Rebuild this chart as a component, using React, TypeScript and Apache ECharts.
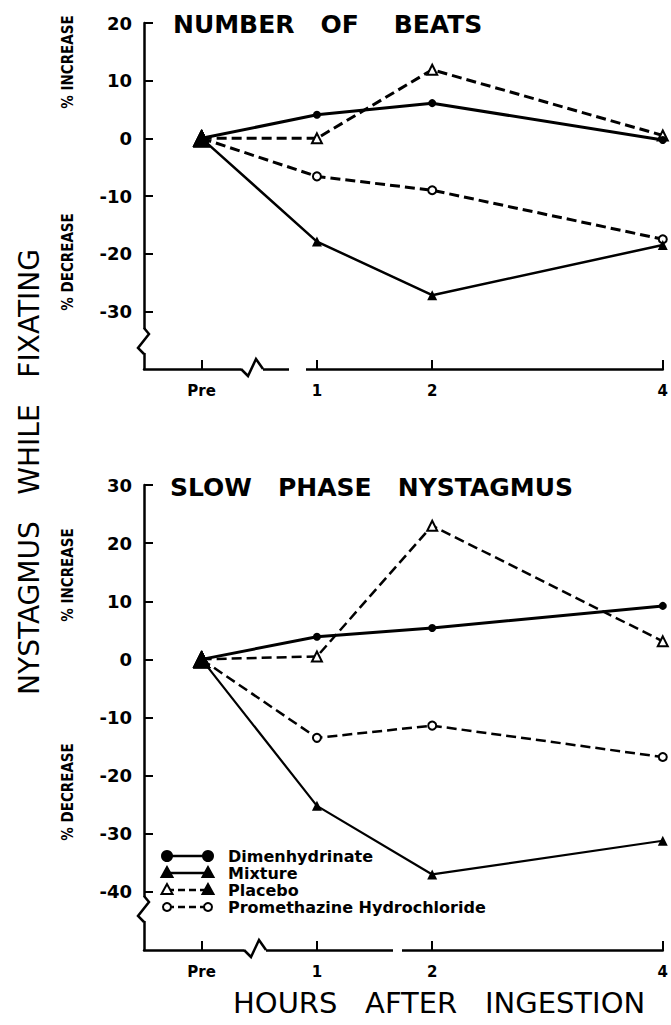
import React, { useEffect, useRef } from "react";
import * as echarts from "echarts";

// ---- data ----
const hours = [0, 1, 2, 4];
const xTickValues = [0, 1, 2, 4];
const xTickNames = ["Pre", "1", "2", "4"];

const beatsDimenhydrinate = [0, 4.1, 6.1, -0.3];
const beatsMixture = [0, -17.9, -27.2, -18.5];
const beatsPlacebo = [0, 0, 11.9, 0.5];
const beatsPromethazine = [0, -6.6, -9.0, -17.5];

const slowDimenhydrinate = [0, 3.9, 5.4, 9.2];
const slowMixture = [0, -25.2, -37, -31.2];
const slowPlacebo = [0, 0.5, 23, 3.1];
const slowPromethazine = [0, -13.5, -11.4, -16.8];

const topYTicks = [20, 10, 0, -10, -20, -30];
const bottomYTicks = [30, 20, 10, 0, -10, -20, -30, -40];

const legendNames = ["Dimenhydrinate", "Mixture", "Placebo", "Promethazine Hydrochloride"];

const FONT = "DejaVu Sans";

function makeSeries(name: string, values: number[], kind: string, idx: number, width: number) {
  const dashed = kind === "placebo" || kind === "prometh";
  let symbol = "circle";
  let symbolSize = 8;
  let itemStyle: any = { color: "#000" };
  if (kind === "mixture") {
    symbol = "triangle";
    symbolSize = 10;
  } else if (kind === "placebo") {
    symbol = "triangle";
    symbolSize = 10;
    itemStyle = { color: "#fff", borderColor: "#000", borderWidth: 2 };
  } else if (kind === "prometh") {
    symbol = "circle";
    symbolSize = 8;
    itemStyle = { color: "#fff", borderColor: "#000", borderWidth: 2 };
  }
  const data = values.map((v, i) => {
    if (i === 0) {
      return {
        value: [hours[i], v],
        symbol: "triangle",
        symbolSize: 17,
        itemStyle: { color: "#000", borderColor: "#000", borderWidth: 1 },
      };
    }
    return { value: [hours[i], v] };
  });
  return {
    name,
    type: "line",
    xAxisIndex: idx,
    yAxisIndex: idx,
    data,
    symbol,
    symbolSize,
    showAllSymbol: true,
    itemStyle,
    lineStyle: { color: "#000", width, type: dashed ? [10, 5] : "solid" },
    z: kind === "mixture" ? 5 : 3,
    silent: true,
  };
}

function xAxisOpt(gridIndex: number) {
  return {
    type: "value",
    gridIndex,
    min: -0.5,
    max: 4,
    axisLine: { show: true, onZero: false, lineStyle: { color: "#000", width: 2.5 } },
    axisTick: { show: true, inside: true, length: 9, customValues: xTickValues, lineStyle: { color: "#000", width: 2 } },
    axisLabel: {
      show: true,
      customValues: xTickValues,
      formatter: (v: number) => xTickNames[xTickValues.indexOf(v)] ?? "",
      color: "#000",
      fontFamily: FONT,
      fontWeight: "bold",
      fontSize: 15,
      margin: 14,
    },
    splitLine: { show: false },
  };
}

function yAxisOpt(gridIndex: number, min: number, max: number, ticks: number[]) {
  return {
    type: "value",
    gridIndex,
    min,
    max,
    interval: 10,
    axisLine: { show: true, onZero: false, lineStyle: { color: "#000", width: 2.5 } },
    axisTick: { show: true, inside: true, length: 9, customValues: ticks, lineStyle: { color: "#000", width: 2 } },
    axisLabel: {
      show: true,
      customValues: ticks,
      formatter: (v: number) => String(v),
      color: "#000",
      fontFamily: FONT,
      fontWeight: "bold",
      fontSize: 18,
      margin: 12,
    },
    splitLine: { show: false },
  };
}

function vText(text: string, x: number, y: number, size: number, weight: string, family: string) {
  return {
    type: "text",
    x,
    y,
    rotation: Math.PI / 2,
    z: 100,
    style: {
      text,
      fill: "#000",
      font: `${weight} ${size}px "${family}"`,
      align: "center",
      verticalAlign: "middle",
    },
  };
}

function hText(text: string, x: number, y: number, size: number, weight: string) {
  return {
    type: "text",
    x,
    y,
    z: 100,
    style: {
      text,
      fill: "#000",
      font: `${weight} ${size}px "${FONT}"`,
      align: "left",
      verticalAlign: "middle",
    },
  };
}

function legendGraphics() {
  const rows = [856, 873, 890, 907];
  const x1 = 167;
  const x2 = 208;
  const els: any[] = [];
  rows.forEach((y, i) => {
    const dashed = i >= 2;
    els.push({
      type: "line",
      z: 100,
      shape: { x1, y1: y, x2, y2: y },
      style: { stroke: "#000", lineWidth: 2.5, lineDash: dashed ? [7, 4] : null },
    });
    const tri = (cx: number, filled: boolean) => ({
      type: "polygon",
      z: 101,
      shape: { points: [[cx, y - 6], [cx - 5.5, y + 4], [cx + 5.5, y + 4]] },
      style: { fill: filled ? "#000" : "#fff", stroke: "#000", lineWidth: 2 },
    });
    const circ = (cx: number, filled: boolean) => ({
      type: "circle",
      z: 101,
      shape: { cx, cy: y, r: filled ? 5 : 4 },
      style: { fill: filled ? "#000" : "#fff", stroke: "#000", lineWidth: 2 },
    });
    if (i === 0) {
      els.push(circ(x1, true), circ(x2, true));
    } else if (i === 1) {
      els.push(tri(x1, true), tri(x2, true));
    } else if (i === 2) {
      els.push(tri(x1, false), tri(x2, true));
    } else {
      els.push(circ(x1, false), circ(x2, false));
    }
    els.push(hText(legendNames[i], 228, y, 16, "bold"));
  });
  return els;
}

function breakGraphics() {
  const els: any[] = [];
  // y-axis breaks
  const yBreak = (y0: number) => {
    els.push({ type: "rect", z: 99, shape: { x: 138, y: y0, width: 12, height: 24 }, style: { fill: "#fff" } });
    els.push({
      type: "polyline",
      z: 100,
      shape: { points: [[144, y0 - 1], [149, y0 + 5], [138, y0 + 19], [144, y0 + 25]] },
      style: { stroke: "#000", lineWidth: 2.5, fill: null },
    });
  };
  yBreak(329);
  yBreak(897);
  // x-axis breaks
  const xBreak = (x0: number, y: number) => {
    els.push({ type: "rect", z: 99, shape: { x: x0, y: y - 3, width: 22, height: 6 }, style: { fill: "#fff" } });
    els.push({
      type: "polyline",
      z: 100,
      shape: { points: [[x0, y], [x0 + 7, y + 7], [x0 + 15, y - 10], [x0 + 22, y]] },
      style: { stroke: "#000", lineWidth: 2.5, fill: null },
    });
  };
  xBreak(241, 369);
  xBreak(244, 950);
  // gaps in x axis line
  els.push({ type: "rect", z: 99, shape: { x: 289, y: 365, width: 17, height: 8 }, style: { fill: "#fff" } });
  els.push({ type: "rect", z: 99, shape: { x: 393, y: 946, width: 9, height: 8 }, style: { fill: "#fff" } });
  return els;
}

export default function App() {
  const ref = useRef<HTMLDivElement>(null);
  useEffect(() => {
    document.body.style.margin = "0";
    if (!ref.current) return;
    const chart = echarts.init(ref.current, undefined, { renderer: "svg" });
    const option: any = {
      animation: false,
      backgroundColor: "#fff",
      grid: [
        { left: 144, right: 4, top: 23, height: 346 },
        { left: 144, right: 4, top: 485, height: 465 },
      ],
      xAxis: [xAxisOpt(0), xAxisOpt(1)],
      yAxis: [yAxisOpt(0, -40, 20, topYTicks), yAxisOpt(1, -50, 30, bottomYTicks)],
      series: [
        makeSeries("Promethazine Hydrochloride", beatsPromethazine, "prometh", 0, 3),
        makeSeries("Placebo", beatsPlacebo, "placebo", 0, 3),
        makeSeries("Dimenhydrinate", beatsDimenhydrinate, "dimen", 0, 3),
        makeSeries("Mixture", beatsMixture, "mixture", 0, 2.5),
        makeSeries("Promethazine Hydrochloride", slowPromethazine, "prometh", 1, 2.5),
        makeSeries("Placebo", slowPlacebo, "placebo", 1, 2.5),
        makeSeries("Dimenhydrinate", slowDimenhydrinate, "dimen", 1, 3),
        makeSeries("Mixture", slowMixture, "mixture", 1, 2.2),
      ],
      graphic: [
        hText("NUMBER   OF    BEATS", 173, 24, 25, "bold"),
        hText("SLOW   PHASE   NYSTAGMUS", 170, 487, 25, "bold"),
        hText("HOURS   AFTER   INGESTION", 233, 1003, 29, "normal"),
        vText("NYSTAGMUS   WHILE   FIXATING", 29, 472, 28, "normal", FONT),
        vText("% INCREASE", 68, 62, 15, "bold", "DejaVu Sans Condensed"),
        vText("% DECREASE", 68, 262, 15, "bold", "DejaVu Sans Condensed"),
        vText("% INCREASE", 68, 575, 15, "bold", "DejaVu Sans Condensed"),
        vText("% DECREASE", 68, 792, 15, "bold", "DejaVu Sans Condensed"),
        ...legendGraphics(),
        ...breakGraphics(),
      ],
    };
    chart.setOption(option);
    return () => chart.dispose();
  }, []);
  return <div ref={ref} style={{ width: 671, height: 1025 }} />;
}
